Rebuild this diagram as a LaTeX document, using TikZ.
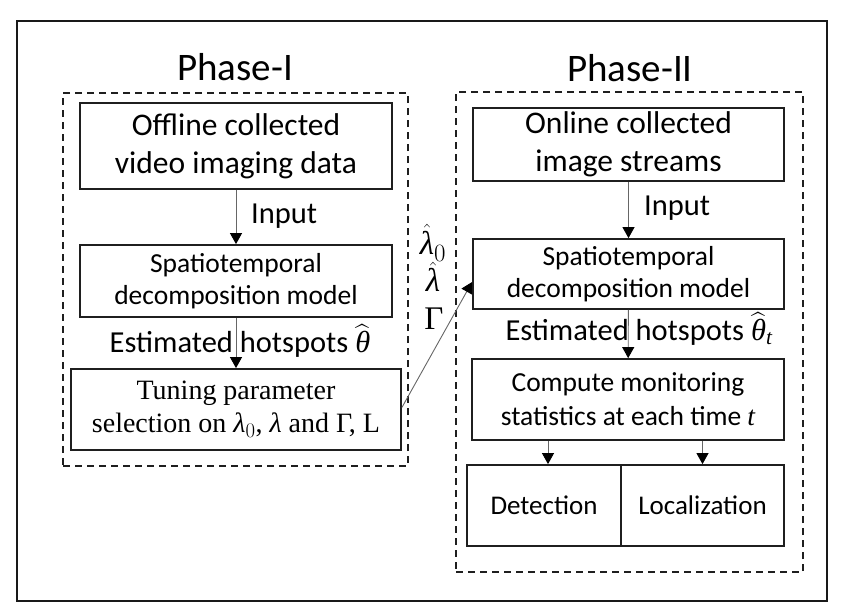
\documentclass[tikz,border=0pt]{standalone}
\usepackage{amsmath}
\usepackage{fontspec}
\setmainfont{Carlito}
\newfontfamily\serifx{Liberation Serif}
\newcommand\lamx{\text{\serifx\itshape λ}}
\newcommand\thetax{\text{\serifx\itshape θ}}
\newcommand\tx{\text{\serifx\itshape t}}
\usetikzlibrary{arrows.meta,calc}
\begin{document}
\begin{tikzpicture}[x=1pt,y=-1pt,
  box/.style={draw=black!88,line width=1.8pt,inner sep=0pt,align=center},
  arr/.style={draw=black!60,line width=0.9pt,-{Triangle[width=12pt,length=11pt,color=black]}},
  phasebox/.style={draw=black!88,line width=1.8pt,dash pattern=on 7pt off 5pt},
  ttl/.style={font=\fontsize{39}{46}\selectfont},
  big/.style={font=\fontsize{31.5}{38}\selectfont},
  mid/.style={font=\fontsize{27.5}{32}\selectfont},
  lbl/.style={font=\fontsize{30.5}{34}\selectfont,inner sep=0pt},
  greek/.style={font=\serifx\fontsize{33}{36}\selectfont,inner sep=0pt}]
\useasboundingbox (0,0) rectangle (844,614);
\node[draw=black!90,line width=2.6pt,minimum width=810pt,minimum height=580pt,inner sep=0pt] (frame) at (422,311) {};
% Phase I
\node[ttl] (t1) at (235,67) {Phase-I};
\node[phasebox,minimum width=345pt,minimum height=373pt,inner sep=0pt] (p1) at (235.5,279.5) {};
\node[box,big,minimum width=312pt,minimum height=86pt] (b1) at (236,146) {Offline collected\\video imaging data};
\node[box,mid,minimum width=312pt,minimum height=72pt] (b2) at (236,281) {Spatiotemporal\\decomposition model};
\node[box,minimum width=330pt,minimum height=81pt,font=\serifx\fontsize{28}{33}\selectfont] (b3) at (236,409.5) {Tuning parameter\\selection on \lamx$_0$, \lamx\ and Γ, L};
\draw[arr] (b1) -- (b2);
\draw[arr] (b2) -- (b3);
\node[lbl,anchor=west] (in1) at (251,216) {Input};
\node[lbl] (e1) at (240,341) {Estimated hotspots $\widehat{\thetax}$};
% Phase II
\node[ttl] (t2) at (630,68) {Phase-II};
\node[phasebox,minimum width=347pt,minimum height=480pt,inner sep=0pt] (p2) at (629.5,332) {};
\node[box,big,minimum width=311pt,minimum height=73pt] (a1) at (628.5,144.5) {Online collected\\image streams};
\node[box,mid,minimum width=311pt,minimum height=70pt] (a2) at (628.5,274) {Spatiotemporal\\decomposition model};
\node[box,minimum width=312pt,minimum height=81pt,font=\fontsize{27.5}{34}\selectfont] (a3) at (628,399.5) {Compute monitoring\\statistics at each time \tx};
\node[box,minimum width=154pt,minimum height=81pt,font=\fontsize{27}{30}\selectfont] (dL) at (544,505.5) {Detection};
\node[box,minimum width=163pt,minimum height=81pt,font=\fontsize{27}{30}\selectfont] (dR) at (702.5,505.5) {Localization};
\draw[arr] (a1) -- (a2);
\draw[arr] (a2) -- (a3);
\draw[arr] ([xshift=4pt]dL.north |- a3.south) -- ([xshift=4pt]dL.north);
\draw[arr] (dR.north |- a3.south) -- (dR.north);
\node[lbl,anchor=west] (in2) at (644,208) {Input};
\node[lbl] (e2) at (639,329) {Estimated hotspots $\widehat{\thetax}_{\tx}$};
% transfer
\draw[arr] ([yshift=2pt]b3.east) -- ([yshift=-8pt]a2.west);
\node[greek] (g1) at (433,243) {$\hat{\lamx}_0$};
\node[greek] (g2) at (433,277) {$\hat{\lamx}$};
\node[greek] (g3) at (434,319) {Γ};
\end{tikzpicture}
\end{document}
